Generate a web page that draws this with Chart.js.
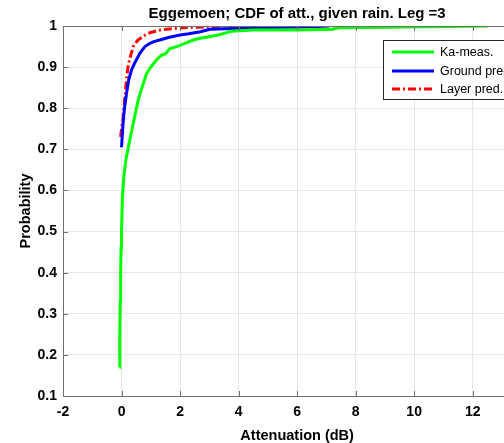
<!DOCTYPE html>
<html><head><meta charset="utf-8">
<script src="https://cdn.jsdelivr.net/npm/chart.js@4/dist/chart.umd.min.js"></script>
<style>html,body{margin:0;padding:0;overflow:hidden;background:#fff}#wrap{width:547px;height:443px;position:relative}</style>
</head><body><div id="wrap"><canvas id="c" width="547" height="443"></canvas></div>
<script>
const titleText = "Eggemoen; CDF of att., given rain. Leg =3";
const xTitle = "Attenuation (dB)";
const yTitle = "Probability";
const seriesNames = ["Ka-meas.", "Ground pred.", "Layer pred."];
const xTicks = [-2,0,2,4,6,8,10,12,14];
const yTicks = [0.1,0.2,0.3,0.4,0.5,0.6,0.7,0.8,0.9,1];
const kaX = [-0.07,-0.06,-0.045,-0.03,-0.015,0,0.03,0.08,0.15,0.26,0.4,0.57,0.7,0.86,1.0,1.2,1.37,1.5,1.65,1.8,2.0,2.25,2.5,2.7,3.0,3.3,3.5,3.75,4.5,6.0,7.2,7.5,9.0,10.5,12.5];
const kaY = [0.17,0.25,0.33,0.40,0.46,0.5,0.58,0.635,0.675,0.715,0.763,0.82,0.85,0.885,0.9,0.918,0.929,0.932,0.945,0.948,0.953,0.96,0.967,0.97,0.974,0.978,0.982,0.987,0.99,0.99,0.992,0.996,0.997,0.998,1.0];
const groundX = [0,0.05,0.1,0.17,0.25,0.34,0.45,0.63,0.8,0.97,1.1,1.31,1.6,2.0,2.3,2.69,3.03,3.8,4.5,5.5,6.5,7.1];
const groundY = [0.705,0.76,0.80,0.836,0.87,0.893,0.91,0.934,0.95,0.958,0.962,0.966,0.972,0.978,0.981,0.986,0.992,0.994,0.996,0.997,0.998,1.0];
const layerX = [-0.03,0,0.06,0.12,0.17,0.22,0.28,0.4,0.55,0.74,0.9,1.09,1.3,1.54,2.0,2.5,3.03,3.8];
const layerY = [0.73,0.75,0.78,0.83,0.87,0.9,0.92,0.95,0.965,0.975,0.982,0.986,0.99,0.992,0.995,0.997,0.998,1.0];

const pts = (xs, ys) => xs.map((x, i) => ({x, y: ys[i]}));
const colors = ['#00ff00', '#0000ff', '#ff0000'];
const dashes = [[], [], [8,3,2,3]];
const FONT = "'Liberation Sans', Arial, sans-serif";

const titlePlugin = {
  id: 'axTitle',
  afterDraw(chart) {
    const a = chart.chartArea, ctx = chart.ctx;
    ctx.save();
    ctx.font = "bold 15px " + FONT;
    ctx.fillStyle = '#000';
    ctx.textAlign = 'center';
    ctx.textBaseline = 'middle';
    ctx.fillText(titleText, (a.left + a.right) / 2, 14);
    ctx.restore();
  }
};

const legendPlugin = {
  id: 'boxLegend',
  afterDatasetsDraw(chart) {
    const ctx = chart.ctx;
    ctx.save();
    const bx = 383, by = 40, bw = 160, bh = 59;
    ctx.fillStyle = '#fff';
    ctx.fillRect(bx, by, bw, bh);
    ctx.strokeStyle = '#262626';
    ctx.lineWidth = 1;
    ctx.strokeRect(bx + 0.5, by + 0.5, bw, bh);
    ctx.font = "12.5px " + FONT;
    ctx.textBaseline = 'middle';
    const rows = [52, 71, 89];
    seriesNames.forEach((n, i) => {
      ctx.strokeStyle = colors[i];
      ctx.lineWidth = 3;
      ctx.setLineDash(dashes[i]);
      ctx.beginPath(); ctx.moveTo(392, rows[i]); ctx.lineTo(434, rows[i]); ctx.stroke();
      ctx.setLineDash([]);
      ctx.fillStyle = '#000';
      ctx.fillText(n, 440, rows[i] + 1);
    });
    ctx.restore();
  }
};

const boxPlugin = {
  id: 'axBox',
  afterDraw(chart) {
    const a = chart.chartArea, ctx = chart.ctx;
    ctx.save();
    ctx.strokeStyle = '#707070'; ctx.lineWidth = 1;
    ctx.strokeRect(Math.round(a.left) + 0.5, Math.round(a.top) + 0.5, Math.round(a.right - a.left), Math.round(a.bottom - a.top));
    const xs = chart.scales.x, ys = chart.scales.y;
    ctx.beginPath();
    xTicks.forEach(t => { const px = Math.round(xs.getPixelForValue(t)) + 0.5; ctx.moveTo(px, a.bottom); ctx.lineTo(px, a.bottom - 5); ctx.moveTo(px, a.top); ctx.lineTo(px, a.top + 5); });
    yTicks.forEach(t => { const py = Math.round(ys.getPixelForValue(t)) + 0.5; ctx.moveTo(a.left, py); ctx.lineTo(a.left + 5, py); });
    ctx.stroke();
    ctx.restore();
  }
};

new Chart(document.getElementById('c'), {
  type: 'scatter',
  data: {
    datasets: seriesNames.map((n, i) => ({
      label: n,
      data: [pts(kaX, kaY), pts(groundX, groundY), pts(layerX, layerY)][i],
      showLine: true, pointRadius: 0, borderColor: colors[i], borderWidth: 3,
      borderDash: dashes[i], tension: 0, fill: false
    }))
  },
  options: {
    responsive: false, animation: false, devicePixelRatio: 1,
    layout: { padding: { left: 17, right: 0, top: 26, bottom: 0 } },
    plugins: {
      legend: { display: false },
      tooltip: { enabled: false },
      title: { display: false }
    },
    scales: {
      x: {
        type: 'linear', min: -2, max: 14,
        afterBuildTicks: s => { s.ticks = xTicks.map(v => ({value: v})); },
        afterFit: s => { s.height = 47; },
        grid: { color: '#e6e6e6', drawTicks: false },
        border: { display: false },
        ticks: { color: '#000', padding: 8, font: { family: FONT, size: 14, weight: 'bold' }, maxRotation: 0 },
        title: { display: true, text: xTitle, color: '#000', font: { family: FONT, size: 14.5, weight: 'bold', lineHeight: 1 }, padding: { top: 0, bottom: 0 } }
      },
      y: {
        type: 'linear', min: 0.1, max: 1,
        afterBuildTicks: s => { s.ticks = yTicks.map(v => ({value: v})); },
        afterFit: s => { s.width = 46; },
        grid: { color: '#e6e6e6', drawTicks: false },
        border: { display: false },
        ticks: { color: '#000', padding: 6, font: { family: FONT, size: 14, weight: 'bold' }, callback: v => String(Math.round(v * 10) / 10) },
        title: { display: true, text: yTitle, color: '#000', font: { family: FONT, size: 14.5, weight: 'bold' }, padding: { top: 0, bottom: 0 } }
      }
    }
  },
  plugins: [boxPlugin, legendPlugin, titlePlugin]
});
</script></body></html>
